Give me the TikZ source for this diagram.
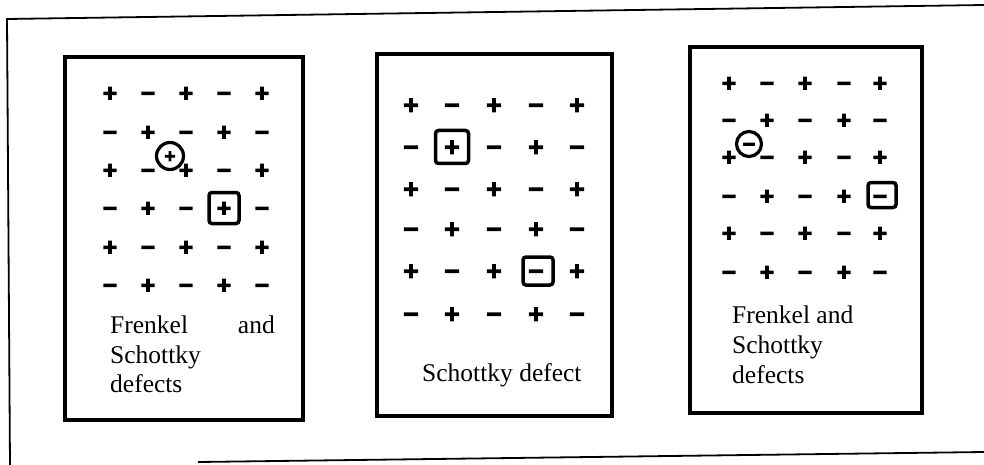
\documentclass[tikz,border=0pt]{standalone}
\usepackage{fontspec}
\setmainfont{Liberation Serif}
\newfontfamily\symf{DejaVu Sans Bold}[FakeBold=7]
\begin{document}
\begin{tikzpicture}[x=1pt,y=-1pt,
  frame/.style={line width=1.8pt},
  panel/.style={line width=3.8pt},
  sym/.style={font=\symf\fontsize{19}{19}\selectfont, inner sep=0pt, text height=12.5pt, text depth=0pt},
  symbig/.style={font=\symf\fontsize{20.5}{20.5}\selectfont, inner sep=0pt, text height=13.5pt, text depth=0pt},
  vac/.style={draw, line width=3.5pt, rounded corners=3pt, inner sep=0pt},
  inter/.style={draw, circle, line width=3.2pt, inner sep=0pt},
  lbl/.style={font=\fontsize{25.5}{29.5}\selectfont, inner sep=0pt},
]
\useasboundingbox (0,0) rectangle (984,465);
% outer frame
\draw[frame] (984,5) -- (7,19) -- (10,465);
\draw[frame] (198,462) -- (984,452);
% panels
\draw[panel] (65,57) rectangle (303,420);
\draw[panel] (377,54) rectangle (612,416);
\draw[panel] (690,47) rectangle (922,413);
% panel 1 lattice
\foreach \r/\y in {1/93,2/132,3/170,4/208,5/247,6/285}{
  \foreach \c/\x in {1/110,2/148,3/186,4/224,5/262}{
    \pgfmathtruncatemacro\odd{mod(\r+\c,2)}
    \ifnum\odd=0 \node[sym] (a-\r-\c) at (\x,\y) {+};\else \node[sym] (a-\r-\c) at (\x,\y) {−};\fi
  }}
% panel 2 lattice
\foreach \r/\y in {1/105,2/147,3/189,4/229,5/271,6/314}{
  \foreach \c/\x in {1/411,2/452,3/494,4/536,5/577}{
    \pgfmathtruncatemacro\odd{mod(\r+\c,2)}
    \ifnum\odd=0 \node[symbig] (b-\r-\c) at (\x,\y) {+};\else \node[symbig] (b-\r-\c) at (\x,\y) {−};\fi
  }}
% panel 3 lattice
\foreach \r/\y in {1/83,2/120,3/157,4/196,5/233,6/272}{
  \foreach \c/\x in {1/729,2/767,3/805,4/844,5/880}{
    \pgfmathtruncatemacro\odd{mod(\r+\c,2)}
    \ifnum\odd=0 \node[sym] (c-\r-\c) at (\x,\y) {+};\else \node[sym] (c-\r-\c) at (\x,\y) {−};\fi
  }}
% vacancies (boxes)
\node[vac, minimum width=30pt, minimum height=31pt] (v1) at (a-4-4) {};
\node[vac, minimum width=33pt, minimum height=33pt] (v2) at (b-2-2) {};
\node[vac, minimum width=30pt, minimum height=28pt] (v3) at ([xshift=2pt]b-5-4) {};
\node[vac, minimum width=28pt, minimum height=25pt] (v4) at ([xshift=2pt,yshift=1pt]c-4-5) {};
% interstitials (circles)
\node[inter, minimum size=27pt, font=\symf\fontsize{15}{15}\selectfont, text height=9.9pt, text depth=0pt] (i1) at (170,156) {+};
\node[inter, minimum size=25pt, font=\symf\fontsize{17}{17}\selectfont, text height=11.2pt, text depth=0pt] (i2) at (749,144) {−};
% labels
\node[lbl, anchor=base west] (t1a) at (110,333) {Frenkel};
\node[lbl, anchor=base east] (t1b) at (275,333) {and};
\node[lbl, anchor=base west] (t1c) at (110,363) {Schottky};
\node[lbl, anchor=base west] (t1d) at (110,392) {defects};
\node[lbl, anchor=base west] (t2) at (422,381) {Schottky defect};
\node[lbl, anchor=base west] (t3a) at (732,323) {Frenkel and};
\node[lbl, anchor=base west] (t3b) at (732,353) {Schottky};
\node[lbl, anchor=base west] (t3c) at (732,383) {defects};
\end{tikzpicture}
\end{document}
